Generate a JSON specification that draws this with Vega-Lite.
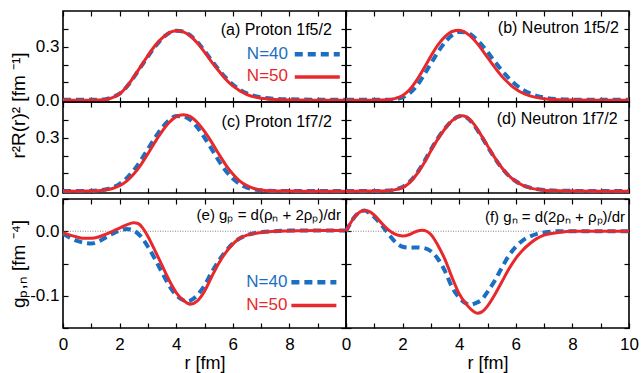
{
"$schema":"https://vega.github.io/schema/vega-lite/v6.json",
"padding":{"left":8,"top":9,"right":0,"bottom":0},
"data":{"name":"curves"},
"datasets":{"curves":[
{"panel":"a","N":"N=50","r":0,"v":0},{"panel":"a","N":"N=50","r":1,"v":0},{"panel":"a","N":"N=50","r":1.5,"v":0.004},{"panel":"a","N":"N=50","r":1.75,"v":0.015},{"panel":"a","N":"N=50","r":2,"v":0.035},{"panel":"a","N":"N=50","r":2.25,"v":0.075},{"panel":"a","N":"N=50","r":2.5,"v":0.13},{"panel":"a","N":"N=50","r":2.75,"v":0.19},{"panel":"a","N":"N=50","r":3,"v":0.25},{"panel":"a","N":"N=50","r":3.25,"v":0.305},{"panel":"a","N":"N=50","r":3.5,"v":0.348},{"panel":"a","N":"N=50","r":3.75,"v":0.378},{"panel":"a","N":"N=50","r":4,"v":0.39},{"panel":"a","N":"N=50","r":4.25,"v":0.383},{"panel":"a","N":"N=50","r":4.5,"v":0.36},{"panel":"a","N":"N=50","r":4.75,"v":0.32},{"panel":"a","N":"N=50","r":5,"v":0.27},{"panel":"a","N":"N=50","r":5.25,"v":0.215},{"panel":"a","N":"N=50","r":5.5,"v":0.165},{"panel":"a","N":"N=50","r":5.75,"v":0.118},{"panel":"a","N":"N=50","r":6,"v":0.08},{"panel":"a","N":"N=50","r":6.5,"v":0.032},{"panel":"a","N":"N=50","r":7,"v":0.011},{"panel":"a","N":"N=50","r":7.5,"v":0.004},{"panel":"a","N":"N=50","r":8,"v":0.001},{"panel":"a","N":"N=50","r":9,"v":0},{"panel":"a","N":"N=50","r":10,"v":0},
{"panel":"a","N":"N=40","r":0,"v":0.002},{"panel":"a","N":"N=40","r":1,"v":0.002},{"panel":"a","N":"N=40","r":1.5,"v":0.006},{"panel":"a","N":"N=40","r":1.75,"v":0.017},{"panel":"a","N":"N=40","r":2,"v":0.037},{"panel":"a","N":"N=40","r":2.25,"v":0.075},{"panel":"a","N":"N=40","r":2.5,"v":0.128},{"panel":"a","N":"N=40","r":2.75,"v":0.187},{"panel":"a","N":"N=40","r":3,"v":0.245},{"panel":"a","N":"N=40","r":3.25,"v":0.3},{"panel":"a","N":"N=40","r":3.5,"v":0.345},{"panel":"a","N":"N=40","r":3.75,"v":0.377},{"panel":"a","N":"N=40","r":4,"v":0.39},{"panel":"a","N":"N=40","r":4.25,"v":0.385},{"panel":"a","N":"N=40","r":4.5,"v":0.363},{"panel":"a","N":"N=40","r":4.75,"v":0.325},{"panel":"a","N":"N=40","r":5,"v":0.277},{"panel":"a","N":"N=40","r":5.25,"v":0.223},{"panel":"a","N":"N=40","r":5.5,"v":0.172},{"panel":"a","N":"N=40","r":5.75,"v":0.126},{"panel":"a","N":"N=40","r":6,"v":0.088},{"panel":"a","N":"N=40","r":6.5,"v":0.038},{"panel":"a","N":"N=40","r":7,"v":0.016},{"panel":"a","N":"N=40","r":7.5,"v":0.008},{"panel":"a","N":"N=40","r":8,"v":0.005},{"panel":"a","N":"N=40","r":9,"v":0.003},{"panel":"a","N":"N=40","r":10,"v":0.003},
{"panel":"b","N":"N=50","r":0,"v":0},{"panel":"b","N":"N=50","r":1,"v":0},{"panel":"b","N":"N=50","r":1.5,"v":0.002},{"panel":"b","N":"N=50","r":1.75,"v":0.01},{"panel":"b","N":"N=50","r":2,"v":0.026},{"panel":"b","N":"N=50","r":2.25,"v":0.06},{"panel":"b","N":"N=50","r":2.5,"v":0.113},{"panel":"b","N":"N=50","r":2.75,"v":0.178},{"panel":"b","N":"N=50","r":3,"v":0.247},{"panel":"b","N":"N=50","r":3.25,"v":0.31},{"panel":"b","N":"N=50","r":3.5,"v":0.356},{"panel":"b","N":"N=50","r":3.75,"v":0.385},{"panel":"b","N":"N=50","r":4,"v":0.392},{"panel":"b","N":"N=50","r":4.25,"v":0.377},{"panel":"b","N":"N=50","r":4.5,"v":0.343},{"panel":"b","N":"N=50","r":4.75,"v":0.295},{"panel":"b","N":"N=50","r":5,"v":0.24},{"panel":"b","N":"N=50","r":5.25,"v":0.185},{"panel":"b","N":"N=50","r":5.5,"v":0.135},{"panel":"b","N":"N=50","r":5.75,"v":0.095},{"panel":"b","N":"N=50","r":6,"v":0.062},{"panel":"b","N":"N=50","r":6.5,"v":0.024},{"panel":"b","N":"N=50","r":7,"v":0.008},{"panel":"b","N":"N=50","r":7.5,"v":0.003},{"panel":"b","N":"N=50","r":8,"v":0.001},{"panel":"b","N":"N=50","r":10,"v":0},
{"panel":"b","N":"N=40","r":0,"v":0.002},{"panel":"b","N":"N=40","r":1,"v":0.002},{"panel":"b","N":"N=40","r":1.5,"v":0.002},{"panel":"b","N":"N=40","r":1.75,"v":0.006},{"panel":"b","N":"N=40","r":2,"v":0.016},{"panel":"b","N":"N=40","r":2.25,"v":0.04},{"panel":"b","N":"N=40","r":2.5,"v":0.08},{"panel":"b","N":"N=40","r":2.75,"v":0.14},{"panel":"b","N":"N=40","r":3,"v":0.205},{"panel":"b","N":"N=40","r":3.25,"v":0.27},{"panel":"b","N":"N=40","r":3.5,"v":0.325},{"panel":"b","N":"N=40","r":3.75,"v":0.365},{"panel":"b","N":"N=40","r":4,"v":0.383},{"panel":"b","N":"N=40","r":4.25,"v":0.38},{"panel":"b","N":"N=40","r":4.5,"v":0.357},{"panel":"b","N":"N=40","r":4.75,"v":0.318},{"panel":"b","N":"N=40","r":5,"v":0.27},{"panel":"b","N":"N=40","r":5.25,"v":0.218},{"panel":"b","N":"N=40","r":5.5,"v":0.168},{"panel":"b","N":"N=40","r":5.75,"v":0.124},{"panel":"b","N":"N=40","r":6,"v":0.087},{"panel":"b","N":"N=40","r":6.5,"v":0.038},{"panel":"b","N":"N=40","r":7,"v":0.015},{"panel":"b","N":"N=40","r":7.5,"v":0.006},{"panel":"b","N":"N=40","r":8,"v":0.003},{"panel":"b","N":"N=40","r":9,"v":0.002},{"panel":"b","N":"N=40","r":10,"v":0.002},
{"panel":"c","N":"N=50","r":0,"v":0},{"panel":"c","N":"N=50","r":1,"v":0.001},{"panel":"c","N":"N=50","r":1.25,"v":0.003},{"panel":"c","N":"N=50","r":1.5,"v":0.007},{"panel":"c","N":"N=50","r":1.75,"v":0.015},{"panel":"c","N":"N=50","r":2,"v":0.031},{"panel":"c","N":"N=50","r":2.25,"v":0.057},{"panel":"c","N":"N=50","r":2.5,"v":0.096},{"panel":"c","N":"N=50","r":2.75,"v":0.148},{"panel":"c","N":"N=50","r":3,"v":0.21},{"panel":"c","N":"N=50","r":3.25,"v":0.275},{"panel":"c","N":"N=50","r":3.5,"v":0.335},{"panel":"c","N":"N=50","r":3.75,"v":0.385},{"panel":"c","N":"N=50","r":4,"v":0.418},{"panel":"c","N":"N=50","r":4.25,"v":0.429},{"panel":"c","N":"N=50","r":4.5,"v":0.418},{"panel":"c","N":"N=50","r":4.75,"v":0.385},{"panel":"c","N":"N=50","r":5,"v":0.335},{"panel":"c","N":"N=50","r":5.25,"v":0.275},{"panel":"c","N":"N=50","r":5.5,"v":0.21},{"panel":"c","N":"N=50","r":5.75,"v":0.148},{"panel":"c","N":"N=50","r":6,"v":0.096},{"panel":"c","N":"N=50","r":6.25,"v":0.057},{"panel":"c","N":"N=50","r":6.5,"v":0.031},{"panel":"c","N":"N=50","r":6.75,"v":0.015},{"panel":"c","N":"N=50","r":7,"v":0.007},{"panel":"c","N":"N=50","r":7.25,"v":0.003},{"panel":"c","N":"N=50","r":7.75,"v":0.001},{"panel":"c","N":"N=50","r":8.5,"v":0},{"panel":"c","N":"N=50","r":10,"v":0},
{"panel":"c","N":"N=40","r":0,"v":0.001},{"panel":"c","N":"N=40","r":1,"v":0.002},{"panel":"c","N":"N=40","r":1.25,"v":0.005},{"panel":"c","N":"N=40","r":1.5,"v":0.01},{"panel":"c","N":"N=40","r":1.75,"v":0.021},{"panel":"c","N":"N=40","r":2,"v":0.041},{"panel":"c","N":"N=40","r":2.25,"v":0.073},{"panel":"c","N":"N=40","r":2.5,"v":0.117},{"panel":"c","N":"N=40","r":2.75,"v":0.173},{"panel":"c","N":"N=40","r":3,"v":0.236},{"panel":"c","N":"N=40","r":3.25,"v":0.299},{"panel":"c","N":"N=40","r":3.5,"v":0.355},{"panel":"c","N":"N=40","r":3.75,"v":0.398},{"panel":"c","N":"N=40","r":4,"v":0.421},{"panel":"c","N":"N=40","r":4.25,"v":0.419},{"panel":"c","N":"N=40","r":4.5,"v":0.399},{"panel":"c","N":"N=40","r":4.75,"v":0.357},{"panel":"c","N":"N=40","r":5,"v":0.3},{"panel":"c","N":"N=40","r":5.25,"v":0.237},{"panel":"c","N":"N=40","r":5.5,"v":0.172},{"panel":"c","N":"N=40","r":5.75,"v":0.115},{"panel":"c","N":"N=40","r":6,"v":0.071},{"panel":"c","N":"N=40","r":6.25,"v":0.04},{"panel":"c","N":"N=40","r":6.5,"v":0.02},{"panel":"c","N":"N=40","r":6.75,"v":0.01},{"panel":"c","N":"N=40","r":7,"v":0.004},{"panel":"c","N":"N=40","r":7.25,"v":0.002},{"panel":"c","N":"N=40","r":7.75,"v":0.001},{"panel":"c","N":"N=40","r":10,"v":0.001},
{"panel":"d","N":"N=50","r":0,"v":0},{"panel":"d","N":"N=50","r":1,"v":0.001},{"panel":"d","N":"N=50","r":1.5,"v":0.003},{"panel":"d","N":"N=50","r":1.75,"v":0.009},{"panel":"d","N":"N=50","r":2,"v":0.02},{"panel":"d","N":"N=50","r":2.25,"v":0.048},{"panel":"d","N":"N=50","r":2.5,"v":0.095},{"panel":"d","N":"N=50","r":2.75,"v":0.155},{"panel":"d","N":"N=50","r":3,"v":0.227},{"panel":"d","N":"N=50","r":3.25,"v":0.293},{"panel":"d","N":"N=50","r":3.5,"v":0.35},{"panel":"d","N":"N=50","r":3.75,"v":0.395},{"panel":"d","N":"N=50","r":4,"v":0.42},{"panel":"d","N":"N=50","r":4.1,"v":0.423},{"panel":"d","N":"N=50","r":4.25,"v":0.417},{"panel":"d","N":"N=50","r":4.5,"v":0.38},{"panel":"d","N":"N=50","r":4.75,"v":0.32},{"panel":"d","N":"N=50","r":5,"v":0.255},{"panel":"d","N":"N=50","r":5.25,"v":0.19},{"panel":"d","N":"N=50","r":5.5,"v":0.133},{"panel":"d","N":"N=50","r":5.75,"v":0.088},{"panel":"d","N":"N=50","r":6,"v":0.056},{"panel":"d","N":"N=50","r":6.25,"v":0.033},{"panel":"d","N":"N=50","r":6.5,"v":0.019},{"panel":"d","N":"N=50","r":7,"v":0.006},{"panel":"d","N":"N=50","r":7.5,"v":0.002},{"panel":"d","N":"N=50","r":8,"v":0.001},{"panel":"d","N":"N=50","r":10,"v":0},
{"panel":"d","N":"N=40","r":0,"v":0.001},{"panel":"d","N":"N=40","r":1,"v":0.001},{"panel":"d","N":"N=40","r":1.5,"v":0.004},{"panel":"d","N":"N=40","r":1.75,"v":0.011},{"panel":"d","N":"N=40","r":2,"v":0.024},{"panel":"d","N":"N=40","r":2.25,"v":0.053},{"panel":"d","N":"N=40","r":2.5,"v":0.1},{"panel":"d","N":"N=40","r":2.75,"v":0.162},{"panel":"d","N":"N=40","r":3,"v":0.233},{"panel":"d","N":"N=40","r":3.25,"v":0.298},{"panel":"d","N":"N=40","r":3.5,"v":0.353},{"panel":"d","N":"N=40","r":3.75,"v":0.396},{"panel":"d","N":"N=40","r":4,"v":0.42},{"panel":"d","N":"N=40","r":4.1,"v":0.422},{"panel":"d","N":"N=40","r":4.25,"v":0.415},{"panel":"d","N":"N=40","r":4.5,"v":0.376},{"panel":"d","N":"N=40","r":4.75,"v":0.316},{"panel":"d","N":"N=40","r":5,"v":0.251},{"panel":"d","N":"N=40","r":5.25,"v":0.187},{"panel":"d","N":"N=40","r":5.5,"v":0.131},{"panel":"d","N":"N=40","r":5.75,"v":0.087},{"panel":"d","N":"N=40","r":6,"v":0.056},{"panel":"d","N":"N=40","r":6.25,"v":0.034},{"panel":"d","N":"N=40","r":6.5,"v":0.02},{"panel":"d","N":"N=40","r":7,"v":0.007},{"panel":"d","N":"N=40","r":7.5,"v":0.003},{"panel":"d","N":"N=40","r":8,"v":0.002},{"panel":"d","N":"N=40","r":10,"v":0.001},
{"panel":"e","N":"N=50","r":0,"v":-0.002},{"panel":"e","N":"N=50","r":0.25,"v":-0.006},{"panel":"e","N":"N=50","r":0.5,"v":-0.009},{"panel":"e","N":"N=50","r":0.75,"v":-0.011},{"panel":"e","N":"N=50","r":1,"v":-0.011},{"panel":"e","N":"N=50","r":1.25,"v":-0.009},{"panel":"e","N":"N=50","r":1.5,"v":-0.005},{"panel":"e","N":"N=50","r":1.75,"v":0},{"panel":"e","N":"N=50","r":2,"v":0.005},{"panel":"e","N":"N=50","r":2.25,"v":0.01},{"panel":"e","N":"N=50","r":2.5,"v":0.013},{"panel":"e","N":"N=50","r":2.65,"v":0.012},{"panel":"e","N":"N=50","r":2.8,"v":0.006},{"panel":"e","N":"N=50","r":3,"v":-0.008},{"panel":"e","N":"N=50","r":3.25,"v":-0.03},{"panel":"e","N":"N=50","r":3.5,"v":-0.053},{"panel":"e","N":"N=50","r":3.75,"v":-0.076},{"panel":"e","N":"N=50","r":4,"v":-0.095},{"panel":"e","N":"N=50","r":4.25,"v":-0.107},{"panel":"e","N":"N=50","r":4.5,"v":-0.113},{"panel":"e","N":"N=50","r":4.75,"v":-0.108},{"panel":"e","N":"N=50","r":5,"v":-0.093},{"panel":"e","N":"N=50","r":5.25,"v":-0.071},{"panel":"e","N":"N=50","r":5.5,"v":-0.05},{"panel":"e","N":"N=50","r":5.75,"v":-0.033},{"panel":"e","N":"N=50","r":6,"v":-0.02},{"panel":"e","N":"N=50","r":6.25,"v":-0.011},{"panel":"e","N":"N=50","r":6.5,"v":-0.006},{"panel":"e","N":"N=50","r":7,"v":-0.002},{"panel":"e","N":"N=50","r":7.5,"v":0},{"panel":"e","N":"N=50","r":8,"v":0.0005},{"panel":"e","N":"N=50","r":9,"v":0.001},{"panel":"e","N":"N=50","r":10,"v":0.001},
{"panel":"e","N":"N=40","r":0,"v":-0.004},{"panel":"e","N":"N=40","r":0.25,"v":-0.01},{"panel":"e","N":"N=40","r":0.5,"v":-0.015},{"panel":"e","N":"N=40","r":0.75,"v":-0.018},{"panel":"e","N":"N=40","r":1,"v":-0.019},{"panel":"e","N":"N=40","r":1.25,"v":-0.016},{"panel":"e","N":"N=40","r":1.5,"v":-0.01},{"panel":"e","N":"N=40","r":1.75,"v":-0.004},{"panel":"e","N":"N=40","r":2,"v":0.001},{"panel":"e","N":"N=40","r":2.25,"v":0.0035},{"panel":"e","N":"N=40","r":2.5,"v":0.001},{"panel":"e","N":"N=40","r":2.75,"v":-0.008},{"panel":"e","N":"N=40","r":3,"v":-0.024},{"panel":"e","N":"N=40","r":3.25,"v":-0.043},{"panel":"e","N":"N=40","r":3.5,"v":-0.064},{"panel":"e","N":"N=40","r":3.75,"v":-0.084},{"panel":"e","N":"N=40","r":4,"v":-0.099},{"panel":"e","N":"N=40","r":4.25,"v":-0.107},{"panel":"e","N":"N=40","r":4.4,"v":-0.109},{"panel":"e","N":"N=40","r":4.6,"v":-0.105},{"panel":"e","N":"N=40","r":4.75,"v":-0.099},{"panel":"e","N":"N=40","r":5,"v":-0.084},{"panel":"e","N":"N=40","r":5.25,"v":-0.064},{"panel":"e","N":"N=40","r":5.5,"v":-0.046},{"panel":"e","N":"N=40","r":5.75,"v":-0.031},{"panel":"e","N":"N=40","r":6,"v":-0.019},{"panel":"e","N":"N=40","r":6.25,"v":-0.011},{"panel":"e","N":"N=40","r":6.5,"v":-0.006},{"panel":"e","N":"N=40","r":6.75,"v":-0.003},{"panel":"e","N":"N=40","r":7,"v":-0.0015},{"panel":"e","N":"N=40","r":7.5,"v":0},{"panel":"e","N":"N=40","r":8,"v":0.001},{"panel":"e","N":"N=40","r":9,"v":0.001},{"panel":"e","N":"N=40","r":10,"v":0.001},
{"panel":"f","N":"N=50","r":0,"v":0},{"panel":"f","N":"N=50","r":0.15,"v":0.012},{"panel":"f","N":"N=50","r":0.3,"v":0.022},{"panel":"f","N":"N=50","r":0.5,"v":0.03},{"panel":"f","N":"N=50","r":0.65,"v":0.032},{"panel":"f","N":"N=50","r":0.8,"v":0.031},{"panel":"f","N":"N=50","r":1,"v":0.025},{"panel":"f","N":"N=50","r":1.25,"v":0.013},{"panel":"f","N":"N=50","r":1.5,"v":0.002},{"panel":"f","N":"N=50","r":1.75,"v":-0.005},{"panel":"f","N":"N=50","r":2,"v":-0.0075},{"panel":"f","N":"N=50","r":2.25,"v":-0.005},{"panel":"f","N":"N=50","r":2.5,"v":0},{"panel":"f","N":"N=50","r":2.7,"v":0.0015},{"panel":"f","N":"N=50","r":2.85,"v":0},{"panel":"f","N":"N=50","r":3,"v":-0.005},{"panel":"f","N":"N=50","r":3.25,"v":-0.022},{"panel":"f","N":"N=50","r":3.5,"v":-0.044},{"panel":"f","N":"N=50","r":3.75,"v":-0.072},{"panel":"f","N":"N=50","r":4,"v":-0.097},{"panel":"f","N":"N=50","r":4.25,"v":-0.113},{"panel":"f","N":"N=50","r":4.5,"v":-0.124},{"panel":"f","N":"N=50","r":4.65,"v":-0.127},{"panel":"f","N":"N=50","r":4.8,"v":-0.125},{"panel":"f","N":"N=50","r":5,"v":-0.116},{"panel":"f","N":"N=50","r":5.25,"v":-0.099},{"panel":"f","N":"N=50","r":5.5,"v":-0.079},{"panel":"f","N":"N=50","r":5.75,"v":-0.059},{"panel":"f","N":"N=50","r":6,"v":-0.042},{"panel":"f","N":"N=50","r":6.25,"v":-0.029},{"panel":"f","N":"N=50","r":6.5,"v":-0.019},{"panel":"f","N":"N=50","r":6.75,"v":-0.011},{"panel":"f","N":"N=50","r":7,"v":-0.006},{"panel":"f","N":"N=50","r":7.5,"v":-0.002},{"panel":"f","N":"N=50","r":8,"v":0},{"panel":"f","N":"N=50","r":10,"v":0},
{"panel":"f","N":"N=40","r":0,"v":0},{"panel":"f","N":"N=40","r":0.15,"v":0.012},{"panel":"f","N":"N=40","r":0.3,"v":0.022},{"panel":"f","N":"N=40","r":0.5,"v":0.03},{"panel":"f","N":"N=40","r":0.65,"v":0.032},{"panel":"f","N":"N=40","r":0.8,"v":0.029},{"panel":"f","N":"N=40","r":1,"v":0.022},{"panel":"f","N":"N=40","r":1.25,"v":0.01},{"panel":"f","N":"N=40","r":1.5,"v":-0.004},{"panel":"f","N":"N=40","r":1.75,"v":-0.017},{"panel":"f","N":"N=40","r":2,"v":-0.024},{"panel":"f","N":"N=40","r":2.25,"v":-0.0255},{"panel":"f","N":"N=40","r":2.5,"v":-0.025},{"panel":"f","N":"N=40","r":2.75,"v":-0.026},{"panel":"f","N":"N=40","r":3,"v":-0.031},{"panel":"f","N":"N=40","r":3.25,"v":-0.043},{"panel":"f","N":"N=40","r":3.5,"v":-0.062},{"panel":"f","N":"N=40","r":3.75,"v":-0.087},{"panel":"f","N":"N=40","r":4,"v":-0.103},{"panel":"f","N":"N=40","r":4.25,"v":-0.112},{"panel":"f","N":"N=40","r":4.4,"v":-0.114},{"panel":"f","N":"N=40","r":4.6,"v":-0.111},{"panel":"f","N":"N=40","r":4.8,"v":-0.106},{"panel":"f","N":"N=40","r":5,"v":-0.094},{"panel":"f","N":"N=40","r":5.25,"v":-0.077},{"panel":"f","N":"N=40","r":5.5,"v":-0.057},{"panel":"f","N":"N=40","r":5.75,"v":-0.038},{"panel":"f","N":"N=40","r":6,"v":-0.024},{"panel":"f","N":"N=40","r":6.25,"v":-0.014},{"panel":"f","N":"N=40","r":6.5,"v":-0.008},{"panel":"f","N":"N=40","r":6.75,"v":-0.004},{"panel":"f","N":"N=40","r":7,"v":-0.002},{"panel":"f","N":"N=40","r":7.5,"v":0},{"panel":"f","N":"N=40","r":10,"v":0}
]},
"bounds":"flush",
"spacing":0,
"columns":2,
"concat":[
{"width":283,"height":91,"resolve":{"axis":{"x":"independent","y":"independent"}},"layer":[
{"transform":[{"filter":"datum.panel=='a' && datum.N=='N=40'"}],"mark":{"type":"line","interpolate":"monotone","color":"#1a6fc2","strokeWidth":4,"strokeDash":[8,5]},
"encoding":{"x":{"field":"r","type":"quantitative","scale":{"domain":[0,10]},"axis":{"orient":"bottom","values":[0,1,2,3,4,5,6,7,8,9,10],"labels":false,"title":null}},
"y":{"field":"v","type":"quantitative","scale":{"domain":[-0.01,0.5]},"axis":{"orient":"left","values":[0,0.1,0.2,0.3,0.4],"labelExpr":"datum.value==0?'0.0':datum.value==0.3?'0.3':''","labelPadding":4,"minExtent":36,"maxExtent":36,"titlePadding":4,"title":"r²R(r)² [fm ⁻¹]","titleY":94}}}},
{"transform":[{"filter":"datum.panel=='a' && datum.N=='N=50'"}],"mark":{"type":"line","interpolate":"monotone","color":"#e8282b","strokeWidth":3},
"encoding":{"x":{"field":"r","type":"quantitative","scale":{"domain":[0,10]},"axis":null},"y":{"field":"v","type":"quantitative","scale":{"domain":[-0.01,0.5]},"axis":null}}},
{"data":{"values":[{}]},"mark":{"type":"text","align":"right","baseline":"middle","fontSize":16,"font":"Liberation Sans"},
"encoding":{"x":{"datum":9.5,"type":"quantitative","scale":{"domain":[0,10]},"axis":{"orient":"top","values":[0,1,2,3,4,5,6,7,8,9,10],"labels":false,"title":null}},
"y":{"datum":0.393,"type":"quantitative","scale":{"domain":[-0.01,0.5]},"axis":{"orient":"right","values":[0,0.1,0.2,0.3,0.4],"labels":false,"title":null}},"text":{"value":"(a) Proton 1f5/2"}}},
{"data":{"values":[{}]},"mark":{"type":"text","align":"right","baseline":"middle","fontSize":17,"font":"Liberation Sans","color":"#1a6fc2"},
"encoding":{"x":{"datum":7.95,"type":"quantitative","scale":{"domain":[0,10]},"axis":null},"y":{"datum":0.26,"type":"quantitative","scale":{"domain":[-0.01,0.5]},"axis":null},"text":{"value":"N=40"}}},
{"data":{"values":[{}]},"mark":{"type":"text","align":"right","baseline":"middle","fontSize":17,"font":"Liberation Sans","color":"#e8282b"},
"encoding":{"x":{"datum":7.95,"type":"quantitative","scale":{"domain":[0,10]},"axis":null},"y":{"datum":0.133,"type":"quantitative","scale":{"domain":[-0.01,0.5]},"axis":null},"text":{"value":"N=50"}}},
{"data":{"values":[{}]},"mark":{"type":"rule","color":"#1a6fc2","strokeWidth":4.5,"strokeDash":[8,5]},
"encoding":{"x":{"datum":8.19,"type":"quantitative","scale":{"domain":[0,10]},"axis":null},"x2":{"datum":9.78},"y":{"datum":0.257,"type":"quantitative","scale":{"domain":[-0.01,0.5]},"axis":null}}},
{"data":{"values":[{}]},"mark":{"type":"rule","color":"#e8282b","strokeWidth":3.5},
"encoding":{"x":{"datum":8.19,"type":"quantitative","scale":{"domain":[0,10]},"axis":null},"x2":{"datum":9.78},"y":{"datum":0.13,"type":"quantitative","scale":{"domain":[-0.01,0.5]},"axis":null}}}
]},
{"width":283,"height":91,"resolve":{"axis":{"x":"independent","y":"independent"}},"layer":[
{"transform":[{"filter":"datum.panel=='b' && datum.N=='N=40'"}],"mark":{"type":"line","interpolate":"monotone","color":"#1a6fc2","strokeWidth":4,"strokeDash":[8,5]},
"encoding":{"x":{"field":"r","type":"quantitative","scale":{"domain":[0,10]},"axis":{"orient":"bottom","values":[0,1,2,3,4,5,6,7,8,9,10],"labels":false,"title":null}},
"y":{"field":"v","type":"quantitative","scale":{"domain":[-0.01,0.5]},"axis":{"orient":"left","values":[0,0.1,0.2,0.3,0.4],"labels":false,"title":null}}}},
{"transform":[{"filter":"datum.panel=='b' && datum.N=='N=50'"}],"mark":{"type":"line","interpolate":"monotone","color":"#e8282b","strokeWidth":3},
"encoding":{"x":{"field":"r","type":"quantitative","scale":{"domain":[0,10]},"axis":null},"y":{"field":"v","type":"quantitative","scale":{"domain":[-0.01,0.5]},"axis":null}}},
{"data":{"values":[{}]},"mark":{"type":"text","align":"right","baseline":"middle","fontSize":16,"font":"Liberation Sans"},
"encoding":{"x":{"datum":9.64,"type":"quantitative","scale":{"domain":[0,10]},"axis":{"orient":"top","values":[0,1,2,3,4,5,6,7,8,9,10],"labels":false,"title":null}},
"y":{"datum":0.405,"type":"quantitative","scale":{"domain":[-0.01,0.5]},"axis":{"orient":"right","values":[0,0.1,0.2,0.3,0.4],"labels":false,"title":null}},"text":{"value":"(b) Neutron 1f5/2"}}}
]},
{"width":283,"height":91,"resolve":{"axis":{"x":"independent","y":"independent"}},"layer":[
{"transform":[{"filter":"datum.panel=='c' && datum.N=='N=40'"}],"mark":{"type":"line","interpolate":"monotone","color":"#1a6fc2","strokeWidth":4,"strokeDash":[8,5]},
"encoding":{"x":{"field":"r","type":"quantitative","scale":{"domain":[0,10]},"axis":{"orient":"bottom","values":[0,1,2,3,4,5,6,7,8,9,10],"labels":false,"title":null}},
"y":{"field":"v","type":"quantitative","scale":{"domain":[-0.01,0.5]},"axis":{"orient":"left","values":[0,0.1,0.2,0.3,0.4],"labelExpr":"datum.value==0?'0.0':datum.value==0.3?'0.3':''","labelPadding":4,"minExtent":36,"maxExtent":36,"title":null}}}},
{"transform":[{"filter":"datum.panel=='c' && datum.N=='N=50'"}],"mark":{"type":"line","interpolate":"monotone","color":"#e8282b","strokeWidth":3},
"encoding":{"x":{"field":"r","type":"quantitative","scale":{"domain":[0,10]},"axis":null},"y":{"field":"v","type":"quantitative","scale":{"domain":[-0.01,0.5]},"axis":null}}},
{"data":{"values":[{}]},"mark":{"type":"text","align":"right","baseline":"middle","fontSize":16,"font":"Liberation Sans"},
"encoding":{"x":{"datum":9.5,"type":"quantitative","scale":{"domain":[0,10]},"axis":{"orient":"top","values":[0,1,2,3,4,5,6,7,8,9,10],"labels":false,"title":null}},
"y":{"datum":0.39,"type":"quantitative","scale":{"domain":[-0.01,0.5]},"axis":{"orient":"right","values":[0,0.1,0.2,0.3,0.4],"labels":false,"title":null}},"text":{"value":"(c) Proton 1f7/2"}}}
]},
{"width":283,"height":91,"resolve":{"axis":{"x":"independent","y":"independent"}},"layer":[
{"transform":[{"filter":"datum.panel=='d' && datum.N=='N=40'"}],"mark":{"type":"line","interpolate":"monotone","color":"#1a6fc2","strokeWidth":4,"strokeDash":[8,5]},
"encoding":{"x":{"field":"r","type":"quantitative","scale":{"domain":[0,10]},"axis":{"orient":"bottom","values":[0,1,2,3,4,5,6,7,8,9,10],"labels":false,"title":null}},
"y":{"field":"v","type":"quantitative","scale":{"domain":[-0.01,0.5]},"axis":{"orient":"left","values":[0,0.1,0.2,0.3,0.4],"labels":false,"title":null}}}},
{"transform":[{"filter":"datum.panel=='d' && datum.N=='N=50'"}],"mark":{"type":"line","interpolate":"monotone","color":"#e8282b","strokeWidth":3},
"encoding":{"x":{"field":"r","type":"quantitative","scale":{"domain":[0,10]},"axis":null},"y":{"field":"v","type":"quantitative","scale":{"domain":[-0.01,0.5]},"axis":null}}},
{"data":{"values":[{}]},"mark":{"type":"text","align":"right","baseline":"middle","fontSize":16,"font":"Liberation Sans"},
"encoding":{"x":{"datum":9.6,"type":"quantitative","scale":{"domain":[0,10]},"axis":{"orient":"top","values":[0,1,2,3,4,5,6,7,8,9,10],"labels":false,"title":null}},
"y":{"datum":0.405,"type":"quantitative","scale":{"domain":[-0.01,0.5]},"axis":{"orient":"right","values":[0,0.1,0.2,0.3,0.4],"labels":false,"title":null}},"text":{"value":"(d) Neutron 1f7/2"}}}
]},
{"width":283,"height":6,"data":{"values":[]},"mark":"point","view":{"stroke":null}},
{"width":283,"height":6,"data":{"values":[]},"mark":"point","view":{"stroke":null}},
{"width":283,"height":129,"resolve":{"axis":{"x":"independent","y":"independent"}},"layer":[
{"data":{"values":[{}]},"mark":{"type":"rule","color":"#666","strokeWidth":0.8,"strokeDash":[1,1.5]},
"encoding":{"y":{"datum":0,"type":"quantitative","scale":{"domain":[-0.15,0.05]},"axis":null}}},
{"transform":[{"filter":"datum.panel=='e' && datum.N=='N=40'"}],"mark":{"type":"line","interpolate":"monotone","color":"#1a6fc2","strokeWidth":4,"strokeDash":[8,5]},
"encoding":{"x":{"field":"r","type":"quantitative","scale":{"domain":[0,10]},"axis":{"orient":"bottom","values":[0,1,2,3,4,5,6,7,8,9,10],"labelExpr":"datum.value%2==0 && datum.value<10 ? datum.label : ''","labelFlush":false,"labelPadding":8,"labelDx":3.5,"title":"r [fm]","titleFontSize":18,"titlePadding":2}},
"y":{"field":"v","type":"quantitative","scale":{"domain":[-0.15,0.05]},"axis":{"orient":"left","values":[-0.15,-0.1,-0.05,0,0.05],"labelExpr":"datum.value==0?'0.0':datum.value==-0.1?'-0.1':''","labelPadding":4,"minExtent":36,"maxExtent":36,"titlePadding":4,"title":"gₚ,ₙ [fm ⁻⁴]"}}}},
{"transform":[{"filter":"datum.panel=='e' && datum.N=='N=50'"}],"mark":{"type":"line","interpolate":"monotone","color":"#e8282b","strokeWidth":3},
"encoding":{"x":{"field":"r","type":"quantitative","scale":{"domain":[0,10]},"axis":null},"y":{"field":"v","type":"quantitative","scale":{"domain":[-0.15,0.05]},"axis":null}}},
{"data":{"values":[{}]},"mark":{"type":"text","align":"right","baseline":"middle","fontSize":15,"font":"Liberation Sans"},
"encoding":{"x":{"datum":9.82,"type":"quantitative","scale":{"domain":[0,10]},"axis":{"orient":"top","values":[0,1,2,3,4,5,6,7,8,9,10],"labels":false,"title":null}},
"y":{"datum":0.0256,"type":"quantitative","scale":{"domain":[-0.15,0.05]},"axis":{"orient":"right","values":[-0.15,-0.1,-0.05,0,0.05],"labels":false,"title":null}},"text":{"value":"(e) gₚ = d(ρₙ + 2ρₚ)/dr"}}},
{"data":{"values":[{}]},"mark":{"type":"text","align":"right","baseline":"middle","fontSize":17,"font":"Liberation Sans","color":"#1a6fc2"},
"encoding":{"x":{"datum":7.93,"type":"quantitative","scale":{"domain":[0,10]},"axis":null},"y":{"datum":-0.079,"type":"quantitative","scale":{"domain":[-0.15,0.05]},"axis":null},"text":{"value":"N=40"}}},
{"data":{"values":[{}]},"mark":{"type":"text","align":"right","baseline":"middle","fontSize":17,"font":"Liberation Sans","color":"#e8282b"},
"encoding":{"x":{"datum":7.93,"type":"quantitative","scale":{"domain":[0,10]},"axis":null},"y":{"datum":-0.115,"type":"quantitative","scale":{"domain":[-0.15,0.05]},"axis":null},"text":{"value":"N=50"}}},
{"data":{"values":[{}]},"mark":{"type":"rule","color":"#1a6fc2","strokeWidth":4.5,"strokeDash":[8,5]},
"encoding":{"x":{"datum":8.07,"type":"quantitative","scale":{"domain":[0,10]},"axis":null},"x2":{"datum":9.66},"y":{"datum":-0.079,"type":"quantitative","scale":{"domain":[-0.15,0.05]},"axis":null}}},
{"data":{"values":[{}]},"mark":{"type":"rule","color":"#e8282b","strokeWidth":3.5},
"encoding":{"x":{"datum":8.07,"type":"quantitative","scale":{"domain":[0,10]},"axis":null},"x2":{"datum":9.66},"y":{"datum":-0.115,"type":"quantitative","scale":{"domain":[-0.15,0.05]},"axis":null}}}
]},
{"width":283,"height":129,"resolve":{"axis":{"x":"independent","y":"independent"}},"layer":[
{"data":{"values":[{}]},"mark":{"type":"rule","color":"#666","strokeWidth":0.8,"strokeDash":[1,1.5]},
"encoding":{"y":{"datum":0,"type":"quantitative","scale":{"domain":[-0.15,0.05]},"axis":null}}},
{"transform":[{"filter":"datum.panel=='f' && datum.N=='N=40'"}],"mark":{"type":"line","interpolate":"monotone","color":"#1a6fc2","strokeWidth":4,"strokeDash":[8,5]},
"encoding":{"x":{"field":"r","type":"quantitative","scale":{"domain":[0,10]},"axis":{"orient":"bottom","values":[0,1,2,3,4,5,6,7,8,9,10],"labelExpr":"datum.value%2==0 ? datum.label : ''","labelFlush":false,"labelPadding":8,"labelDx":3.5,"title":"r [fm]","titleFontSize":18,"titlePadding":2}},
"y":{"field":"v","type":"quantitative","scale":{"domain":[-0.15,0.05]},"axis":{"orient":"left","values":[-0.15,-0.1,-0.05,0,0.05],"labels":false,"title":null}}}},
{"transform":[{"filter":"datum.panel=='f' && datum.N=='N=50'"}],"mark":{"type":"line","interpolate":"monotone","color":"#e8282b","strokeWidth":3},
"encoding":{"x":{"field":"r","type":"quantitative","scale":{"domain":[0,10]},"axis":null},"y":{"field":"v","type":"quantitative","scale":{"domain":[-0.15,0.05]},"axis":null}}},
{"data":{"values":[{}]},"mark":{"type":"text","align":"right","baseline":"middle","fontSize":15,"font":"Liberation Sans"},
"encoding":{"x":{"datum":9.86,"type":"quantitative","scale":{"domain":[0,10]},"axis":{"orient":"top","values":[0,1,2,3,4,5,6,7,8,9,10],"labels":false,"title":null}},
"y":{"datum":0.0215,"type":"quantitative","scale":{"domain":[-0.15,0.05]},"axis":{"orient":"right","values":[-0.15,-0.1,-0.05,0,0.05],"labels":false,"title":null}},"text":{"value":"(f) gₙ = d(2ρₙ + ρₚ)/dr"}}}
]}
],
"config":{
"view":{"stroke":"#000","strokeWidth":1.6},
"axis":{"grid":false,"domain":false,"ticks":true,"tickSize":5,"offset":-5,"tickColor":"#000","tickWidth":1.2,"labelFont":"Liberation Sans","labelFontSize":17,"labelColor":"#000","titleFont":"Liberation Sans","titleFontWeight":"normal","titleColor":"#000","titleFontSize":19}
}
}
